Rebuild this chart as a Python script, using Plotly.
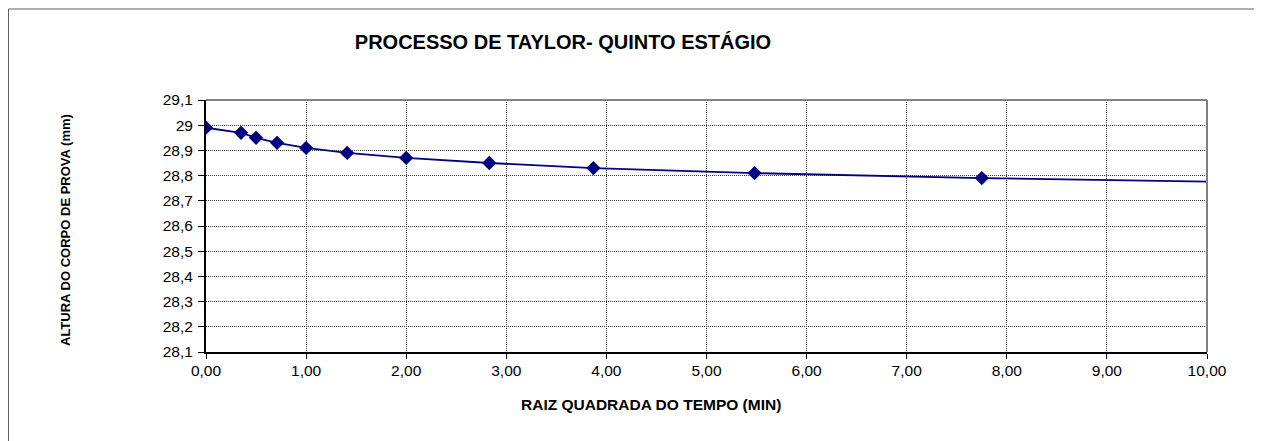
import plotly.graph_objects as go

# Data
raiz_tempo = [0.00, 0.35, 0.50, 0.71, 1.00, 1.41, 2.00, 2.83, 3.87, 5.48, 7.75, 10.95]
altura = [28.99, 28.97, 28.95, 28.93, 28.91, 28.89, 28.87, 28.85, 28.83, 28.81, 28.79, 28.77]

y_tickvals = [28.1, 28.2, 28.3, 28.4, 28.5, 28.6, 28.7, 28.8, 28.9, 29.0, 29.1]
y_ticktext = ["28,1", "28,2", "28,3", "28,4", "28,5", "28,6", "28,7", "28,8", "28,9", "29", "29,1"]
x_tickvals = [0, 1, 2, 3, 4, 5, 6, 7, 8, 9, 10]
x_ticktext = ["0,00", "1,00", "2,00", "3,00", "4,00", "5,00", "6,00", "7,00", "8,00", "9,00", "10,00"]

# figure is placed at an 8px body offset inside the 1262x441 window
W, H = 1254, 433
L, R, T, B = 198, 55, 92, 89
pw = W - L - R
ph = H - T - B


def px_to_paper_x(px):
    return (px - L) / pw


def px_to_paper_y(py):
    return (T + ph - py) / ph


FONT = "Liberation Sans, Arial, Helvetica, sans-serif"

fig = go.Figure()
fig.add_trace(go.Scatter(
    x=raiz_tempo, y=altura, mode="lines+markers",
    line=dict(color="#000080", width=1.8),
    marker=dict(symbol="diamond", size=11, color="#000080"),
    cliponaxis=True, showlegend=False,
))

fig.update_layout(
    width=W, height=H,
    margin=dict(l=L, r=R, t=T, b=B),
    paper_bgcolor="white", plot_bgcolor="white",
    font=dict(family=FONT, color="black", size=15),
    title=dict(text="<b>PROCESSO DE TAYLOR- QUINTO ESTÁGIO</b>",
               xref="container", yref="container",
               x=555 / W, xanchor="center", y=1 - 34 / H, yanchor="middle",
               font=dict(size=20, family=FONT)),
)

fig.update_xaxes(
    range=[0, 10], tickvals=x_tickvals, ticktext=x_ticktext,
    showgrid=True, gridcolor="#3a3a3a", griddash="1px,1px", gridwidth=1,
    showline=True, linecolor="black", linewidth=2,
    ticks="outside", ticklen=5, tickcolor="black", tickwidth=1,
    zeroline=False,
    tickfont=dict(size=15.5),
    ticklabelstandoff=-2,
)
fig.update_yaxes(
    range=[28.1, 29.1], tickvals=y_tickvals, ticktext=y_ticktext,
    showgrid=True, gridcolor="#3a3a3a", griddash="1px,1px", gridwidth=1,
    showline=True, linecolor="black", linewidth=2,
    ticks="outside", ticklen=6, tickcolor="black", tickwidth=1,
    zeroline=False,
    tickfont=dict(size=15.5),
    ticklabelstandoff=2,
)

# axis titles as annotations for exact placement
fig.add_annotation(text="<b>RAIZ QUADRADA DO TEMPO (MIN)</b>", xref="paper", yref="paper",
                   x=px_to_paper_x(643), y=px_to_paper_y(396), xanchor="center", yanchor="middle",
                   showarrow=False, font=dict(size=15.5, family=FONT))
fig.add_annotation(text="<b>ALTURA DO CORPO DE PROVA (mm)</b>", xref="paper", yref="paper",
                   x=px_to_paper_x(57), y=px_to_paper_y(222), xanchor="center", yanchor="middle",
                   textangle=-90, showarrow=False, font=dict(size=13, family=FONT))

# gray plot-area border on top and right
fig.add_shape(type="line", xref="paper", yref="paper", x0=0, x1=1, y0=1, y1=1,
              line=dict(color="#808080", width=2))
fig.add_shape(type="line", xref="paper", yref="paper", x0=1, x1=1, y0=0, y1=1,
              line=dict(color="#808080", width=2))

# outer chart border (top and left visible)
xl = px_to_paper_x(0.5)
yt = px_to_paper_y(1.0)
fig.add_shape(type="line", xref="paper", yref="paper", x0=xl, x1=px_to_paper_x(W + 10), y0=yt, y1=yt,
              line=dict(color="#606060", width=1))
fig.add_shape(type="line", xref="paper", yref="paper", x0=xl, x1=xl, y0=yt, y1=px_to_paper_y(H + 10),
              line=dict(color="#606060", width=1))

fig.write_html("out.html")
